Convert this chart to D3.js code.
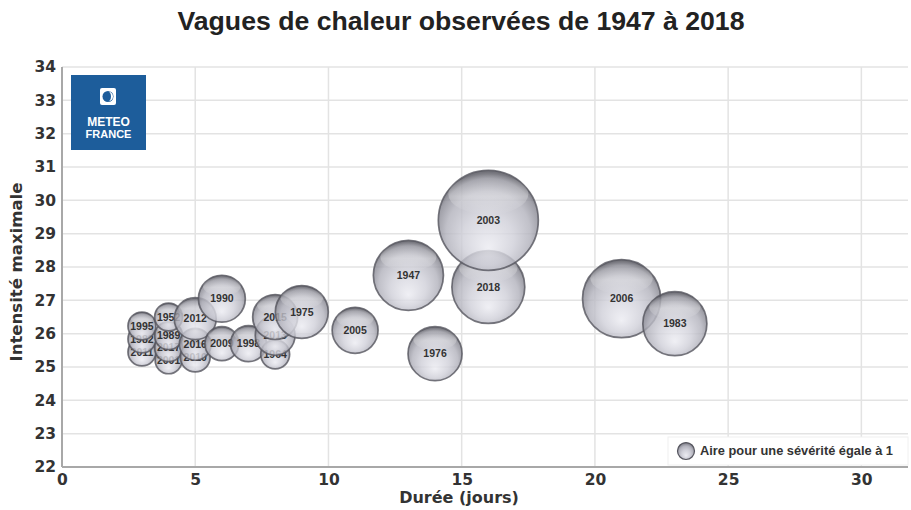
<!DOCTYPE html>
<html><head><meta charset="utf-8">
<script src="https://cdn.jsdelivr.net/npm/d3@7"></script>
<style>body{margin:0;background:#fff}svg{display:block}</style>
</head><body>
<svg id="c" width="911" height="510"></svg>
<script>
// ---- data (drawing order: back to front) ----
const years     = ["2011","1982","1995","2001","2017","1989","1952","2010","2016","2012","2009","1990","1998","1964","2013","2015","1975","2005","1947","1976","2018","2003","2006","1983"];
const durations = [3,    3,     3,     4,     4,     4,     4,     5,     5,     5,     6,     6,     7,     8,     8,     8,     9,     11,    13,    14,    16,    16,    21,    23];
const intensity = [25.45,25.84, 26.23, 25.2,  25.58, 25.94, 26.5,  25.3,  25.68, 26.45, 25.7,  27.05, 25.7,  25.38, 25.95, 26.5,  26.65, 26.1,  27.75, 25.4,  27.4,  29.4,  27.05, 26.3];
const severity  = [2.7,  2.7,   2.7,   2.5,   2.7,   2.7,   2.7,   3.1,   3.5,   6.1,   4.0,   7.6,   4.5,   2.9,   5.5,   7.0,   9.7,   7.3,   17.0,  10.1,  18.4,  34.6,  21.1,  14.2];
const xTicks = [0,5,10,15,20,25,30];
const yTicks = [22,23,24,25,26,27,28,29,30,31,32,33,34];
const title = "Vagues de chaleur observées de 1947 à 2018";
const xTitle = "Durée (jours)";
const yTitle = "Intensité maximale";
const legendText = "Aire pour une sévérité égale à 1";

const svg = d3.select("#c");
const L = 62, R = 908, T = 67, B = 467;
const x = d3.scaleLinear().domain([0, 31.75]).range([L, R]);
const y = d3.scaleLinear().domain([22, 34]).range([B, T]);
const r = d3.scaleSqrt().domain([0, 1]).range([0, 8.5]).clamp(false);

// gradients
const defs = svg.append("defs");
const g1 = defs.append("radialGradient").attr("id","bub").attr("cx","50%").attr("cy","58%").attr("r","56%").attr("fx","50%").attr("fy","78%");
[[0,"#ececf2"],[0.45,"#d0d0d9"],[0.75,"#b3b3bd"],[0.92,"#8b8b95"],[1,"#55555e"]].forEach(s=>g1.append("stop").attr("offset",s[0]).attr("stop-color",s[1]));
const g2 = defs.append("linearGradient").attr("id","hl").attr("x1",0).attr("y1",0).attr("x2",0).attr("y2",1);
g2.append("stop").attr("offset",0).attr("stop-color","#fff").attr("stop-opacity",0.0);
g2.append("stop").attr("offset",0.55).attr("stop-color","#fff").attr("stop-opacity",0.28);
g2.append("stop").attr("offset",1).attr("stop-color","#fff").attr("stop-opacity",0);

// grid
svg.append("g").selectAll("line").data(yTicks.slice(1)).join("line")
  .attr("x1",L).attr("x2",R).attr("y1",d=>y(d)).attr("y2",d=>y(d))
  .attr("stroke","#e3e3e3").attr("stroke-width",1.5);
svg.append("g").selectAll("line").data(xTicks.slice(1)).join("line")
  .attr("x1",d=>x(d)).attr("x2",d=>x(d)).attr("y1",T).attr("y2",B)
  .attr("stroke","#e3e3e3").attr("stroke-width",1.5);

// axes
const xa = svg.append("g").attr("transform",`translate(0,${B})`).call(d3.axisBottom(x).tickValues(xTicks).tickSize(0).tickPadding(7));
const ya = svg.append("g").attr("transform",`translate(${L},0)`).call(d3.axisLeft(y).tickValues(yTicks).tickSize(0).tickPadding(6));
[xa,ya].forEach(a=>{
  a.select(".domain").attr("stroke","#a8a8a8").attr("stroke-width",2);
  a.selectAll("text").attr("font-family","DejaVu Sans").attr("font-weight","bold").attr("font-size",15.5).attr("fill","#333");
});
xa.select(".domain").attr("d",`M${L},0H${R}`);
ya.select(".domain").attr("d",`M0,${B}V${T}`);

// titles
svg.append("text").attr("x",461).attr("y",30).attr("text-anchor","middle")
  .attr("font-family","Liberation Sans, Arial").attr("font-weight","bold").attr("font-size",25)
  .attr("textLength",567).attr("lengthAdjust","spacingAndGlyphs").attr("fill","#222").text(title);
svg.append("text").attr("x",459).attr("y",503).attr("text-anchor","middle")
  .attr("font-family","DejaVu Sans").attr("font-weight","bold").attr("font-size",16).attr("fill","#333").text(xTitle);
svg.append("text").attr("transform","translate(22,272) rotate(-90)").attr("text-anchor","middle")
  .attr("font-family","DejaVu Sans").attr("font-weight","bold").attr("font-size",16.5).attr("fill","#333").text(yTitle);

// logo
const lg = svg.append("g");
lg.append("rect").attr("x",71).attr("y",75).attr("width",75).attr("height",75).attr("fill","#1d5d9b");
lg.append("rect").attr("x",100).attr("y",88).attr("width",16).attr("height",17).attr("rx",2).attr("fill","#fff");
lg.append("circle").attr("cx",108).attr("cy",96.5).attr("r",5.5).attr("fill","#1d5d9b");
lg.append("path").attr("d","M108,91.5 A5,5 0 0,1 108,101.5 A3,5 0 0,0 108,91.5Z").attr("fill","#fff");
lg.append("text").attr("x",108.5).attr("y",126).attr("text-anchor","middle").attr("font-family","Liberation Sans, Arial").attr("font-weight","bold").attr("font-size",12).attr("fill","#fff").text("METEO");
lg.append("text").attr("x",108.5).attr("y",138).attr("text-anchor","middle").attr("font-family","Liberation Sans, Arial").attr("font-weight","bold").attr("font-size",11).attr("fill","#fff").text("FRANCE");

// bubbles
const data = years.map((yr,i)=>({yr, d:durations[i], v:intensity[i], s:severity[i]}));
const bub = svg.append("g").selectAll("g").data(data).join("g")
  .attr("transform",d=>`translate(${x(d.d)},${y(d.v)})`);
bub.append("circle").attr("r",d=>r(d.s)).attr("fill","url(#bub)").attr("fill-opacity",0.82)
  .attr("stroke","#55555e").attr("stroke-opacity",0.8).attr("stroke-width",1.7);
bub.append("ellipse").attr("cy",d=>-r(d.s)*0.52).attr("rx",d=>r(d.s)*0.8).attr("ry",d=>r(d.s)*0.4).attr("fill","url(#hl)");
bub.append("text").attr("text-anchor","middle").attr("dy","0.35em")
  .attr("font-family","Liberation Sans, Arial").attr("font-weight","bold").attr("font-size",10.5).attr("fill","#333").text(d=>d.yr);

// legend
const leg = svg.append("g");
leg.append("rect").attr("x",668).attr("y",437).attr("width",240).attr("height",28).attr("fill","#fff").attr("stroke","#f0f0f0");
leg.append("circle").attr("cx",686).attr("cy",451).attr("r",r(1)).attr("fill","url(#bub)").attr("stroke","#55555e").attr("stroke-width",1.2);
leg.append("text").attr("x",700).attr("y",455).attr("font-family","Liberation Sans, Arial").attr("font-weight","bold").attr("font-size",12.5)
  .attr("textLength",193).attr("lengthAdjust","spacingAndGlyphs").attr("fill","#333").text(legendText);
</script>
</body></html>
